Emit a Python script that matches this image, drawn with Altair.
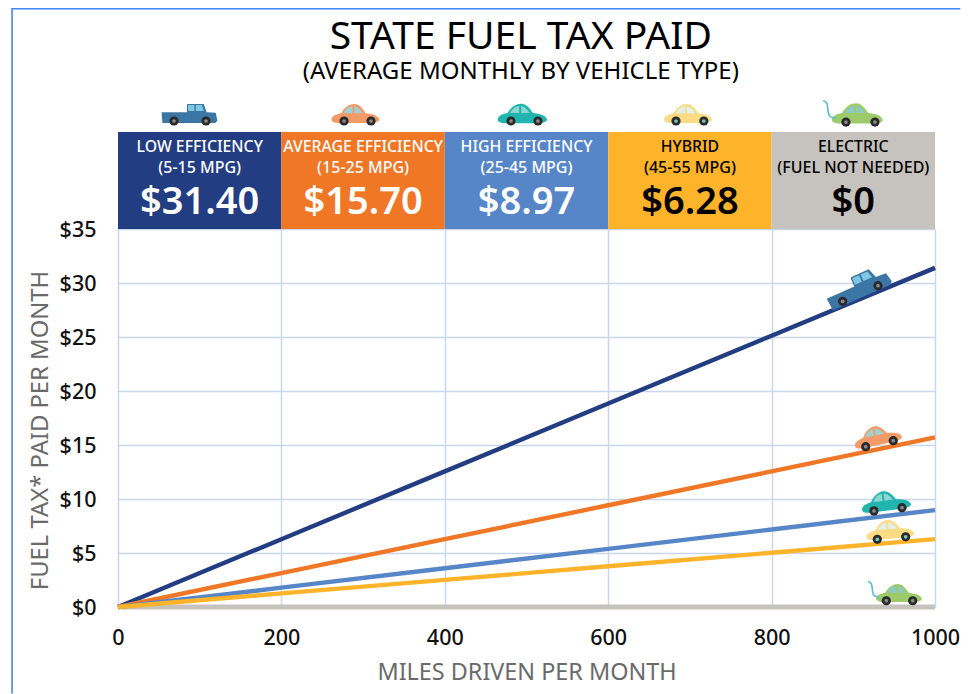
import altair as alt
import pandas as pd

FONT = "Noto Sans"

miles = [0, 200, 400, 600, 800, 1000]
low = [0, 6.28, 12.56, 18.84, 25.12, 31.4]
avg = [0, 3.14, 6.28, 9.42, 12.56, 15.7]
high = [0, 1.79, 3.59, 5.38, 7.18, 8.97]
hyb = [0, 1.26, 2.51, 3.77, 5.02, 6.28]
ele = [0, 0, 0, 0, 0, 0]

series = ["Electric", "Low", "Average", "High", "Hybrid"]
colors = ["#c6c2bd", "#233d82", "#f07726", "#5686c8", "#fdb32a"]
widths = [5, 4.4, 4.4, 4.4, 4.4]
values = [ele, low, avg, high, hyb]

band_start = [0, 200, 400, 600, 800]
band_end = [200, 400, 600, 800, 1000]
band_mid = [100, 300, 500, 700, 900]
band_color = ["#233d82", "#f07726", "#5686c8", "#fdb32a", "#c6c2bd"]
band_line1 = ["LOW EFFICIENCY", "AVERAGE EFFICIENCY", "HIGH EFFICIENCY", "HYBRID", "ELECTRIC"]
band_line2 = ["(5-15 MPG)", "(15-25 MPG)", "(25-45 MPG)", "(45-55 MPG)", "(FUEL NOT NEEDED)"]
band_big = ["$31.40", "$15.70", "$8.97", "$6.28", "$0"]
band_text = ["#ffffff", "#ffffff", "#ffffff", "#000000", "#000000"]

BAND_TOP = 43.98
L1_Y, L2_Y, BIG_Y = 42.55, 40.65, 37.4

x_scale = alt.Scale(domain=[0, 1000], nice=False)
y_scale = alt.Scale(domain=[0, 35], nice=False)
x_axis = alt.Axis(values=miles, grid=True, gridColor="#c9d6f0", gridWidth=1.5, domain=False, ticks=False,
                  format="d", labelFlush=False, labelFont=FONT, labelFontSize=21.5, labelFontWeight=500,
                  labelColor="#111111", labelPadding=20, titleFont=FONT, titleFontSize=23.4,
                  titleFontWeight="normal", titleColor="#6a6a6a", titleY=65, titleBaseline="middle")
y_axis = alt.Axis(values=list(range(0, 36, 5)), grid=True, gridColor="#c9d6f0", gridWidth=1.5, domain=False,
                  ticks=False, format="$.0f", labelFont=FONT, labelFontSize=21.5, labelFontWeight=500,
                  labelFlush=False, labelOffset=1.5, labelColor="#111111", labelPadding=22, titleFont=FONT,
                  titleFontSize=23.8, titleFontWeight="normal", titleColor="#6a6a6a", titleX=-78, titleY=201,
                  titleBaseline="middle")
X_TITLE = "MILES DRIVEN PER MONTH"
Y_TITLE = "FUEL TAX* PAID PER MONTH"


def X(f="x"):
    return alt.X(f"{f}:Q", scale=x_scale, axis=x_axis, title=X_TITLE)


def Y(f="y"):
    return alt.Y(f"{f}:Q", scale=y_scale, axis=y_axis, title=Y_TITLE)


# Outer blue frame
frame_x = [-129.7, -129.7, 1031]
frame_y = [-8, 55.4, 55.4]
frame = alt.Chart(pd.DataFrame({"x": frame_x, "y": frame_y, "o": [0, 1, 2]})).mark_line(
    color="#4285f4", strokeWidth=1.6, clip=False).encode(x=X(), y=Y(), order="o:Q")

rows = []
for s, v in zip(series, values):
    for m, val in zip(miles, v):
        rows.append({"x": m, "y": val, "s": s})
lines_df = pd.DataFrame(rows)
lines = [
    alt.Chart(lines_df[lines_df.s == s]).mark_line(color=c, strokeWidth=w, clip=False).encode(x=X(), y=Y())
    for s, c, w in zip(series, colors, widths)
]

bands_df = pd.DataFrame({"x": band_start, "x2": band_end, "y": [35] * 5, "y2": [BAND_TOP] * 5, "c": band_color})
bands = alt.Chart(bands_df).mark_rect(clip=False).encode(
    x=X(), x2="x2:Q", y=Y(), y2="y2:Q", color=alt.Color("c:N", scale=None))

text_df = pd.DataFrame({"x": band_mid, "l1": band_line1, "l2": band_line2, "big": band_big, "c": band_text})


def label(field, y, size, weight="normal"):
    return alt.Chart(text_df.assign(y=y)).mark_text(
        font=FONT, fontSize=size, fontWeight=weight, baseline="middle").encode(
        x=X(), y=Y(), text=f"{field}:N", color=alt.Color("c:N", scale=None))


texts = [label("l1", L1_Y, 15.8, 500), label("l2", L2_Y, 16, 500), label("big", BIG_Y, 38, 600)]

title_text = ["STATE FUEL TAX PAID", "(AVERAGE MONTHLY BY VEHICLE TYPE)"]
title_x = [493, 493]
title_y = [52.8, 49.5]
title_size = [39, 24]
titles = [
    alt.Chart(pd.DataFrame({"x": [title_x[i]], "y": [title_y[i]], "t": [title_text[i]]})).mark_text(
        font=FONT, fontSize=title_size[i], color="#000000", baseline="middle").encode(x=X(), y=Y(), text="t:N")
    for i in range(2)
]

# Vehicles: outlines are unit-space symbols, placed through the scales
CAR = ("M-1,0.18 C-0.98,0 -0.75,-0.05 -0.6,-0.08 C-0.45,-0.34 -0.25,-0.46 -0.05,-0.46 "
       "C0.15,-0.46 0.3,-0.28 0.42,-0.08 C0.7,-0.05 0.95,0 1,0.2 C0.95,0.3 0.8,0.33 0.6,0.33 "
       "L-0.7,0.33 C-0.85,0.33 -1,0.28 -1,0.18 Z")
CAR_GLASS = ("M-0.5,-0.08 C-0.42,-0.24 -0.3,-0.36 -0.13,-0.37 L-0.13,-0.08 Z "
             "M-0.05,-0.37 C0.08,-0.36 0.2,-0.22 0.3,-0.08 L-0.05,-0.08 Z")
TRUCK = ("M-0.98,-0.1 L-0.09,-0.1 L-0.09,-0.36 Q-0.09,-0.39 -0.05,-0.39 L0.5,-0.39 L0.6,-0.1 "
         "L0.92,-0.08 L0.98,0.2 L0.9,0.28 L-0.95,0.28 Z")
TRUCK_GLASS = "M-0.05,-0.35 L0.17,-0.35 L0.17,-0.14 L-0.05,-0.14 Z M0.22,-0.35 L0.44,-0.35 L0.5,-0.14 L0.22,-0.14 Z"
CORD = "M-1.35,-0.55 C-1.1,-0.6 -1.2,-0.1 -1.1,0.02 C-1.05,0.1 -0.95,0.1 -0.85,0.12"

veh_x = [87.5, 290.7, 495, 697.7, 905, 906.4, 929.7, 940, 944.9, 955.9]
veh_y = [45.55, 45.55, 45.55, 45.55, 45.55, 29.5, 15.74, 9.68, 7.04, 1.16]
veh_angle = [0, 0, 0, 0, 0, 336, 348, 353, 355, 0]
veh_size = [3249, 2304, 2450, 2304, 2600, 4624, 2304, 2450, 2304, 2116]
veh_color = ["#3b76a4", "#f49a66", "#20b5ae", "#fbdc85", "#9ecb6a"] * 2
veh_glass = ["#7ec8e3", "#9fd3d3", "#8fd5d0", "#dff1ea", "#8cc9c2"] * 2
veh_hub = ["#8a8a8a", "#8a8a8a", "#8a8a8a", "#6fcac6", "#8a8a8a"] * 2
veh = pd.DataFrame({"x": veh_x, "y": veh_y, "a": veh_angle, "size": veh_size})


def symbol(i, shape, color, filled=True, **kw):
    return alt.Chart(veh.iloc[[i]]).mark_point(
        shape=shape, filled=filled, opacity=1, color=color, clip=False, **kw).encode(
        x=X(), y=Y(), angle=alt.Angle("a:Q", scale=None), size=alt.Size("size:Q", scale=None))


bodies = []
for i in range(len(veh)):
    truck = i % 5 == 0
    bodies.append(symbol(i, TRUCK if truck else CAR, veh_color[i], stroke=None))
    bodies.append(symbol(i, TRUCK_GLASS if truck else CAR_GLASS, veh_glass[i], stroke=None))
    if i % 5 == 4:
        bodies.append(symbol(i, CORD, "#5bbcd6", filled=False, strokeWidth=1.6))

wheel_x = [68.5, 107.7, 276.7, 309.7, 481, 514, 683, 717, 891, 926.5,
           887, 930.2, 915.2, 948.9, 925.3, 959.6, 929.4, 964.1, 940.4, 972.7]
wheel_y = [45.0, 45.0, 45.0, 45.0, 45.0, 45.0, 45.0, 45.0, 44.9, 44.9,
           28.3, 29.75, 14.84, 15.4, 8.9, 9.2, 6.27, 6.5, 0.58, 0.58]
wheel_hub = [c for c in veh_hub for _ in range(2)]
wheels_df = pd.DataFrame({"x": wheel_x, "y": wheel_y, "c": wheel_hub})
wheels = alt.Chart(wheels_df).mark_point(filled=True, opacity=1, color="#2a2a2a", size=85, clip=False).encode(x=X(), y=Y())
hubs = alt.Chart(wheels_df).mark_point(filled=True, opacity=1, size=14, clip=False).encode(
    x=X(), y=Y(), color=alt.Color("c:N", scale=None))

chart = alt.layer(frame, *lines, bands, *texts, *titles, *bodies, wheels, hubs).properties(
    width=817, height=378,
    autosize=alt.AutoSizeParams(type="none"),
    padding={"left": 110, "top": 221, "right": 26, "bottom": 87},
    background="#ffffff",
).configure_view(stroke=None)

chart.save("out.html", embed_options={"renderer": "svg", "actions": False})
